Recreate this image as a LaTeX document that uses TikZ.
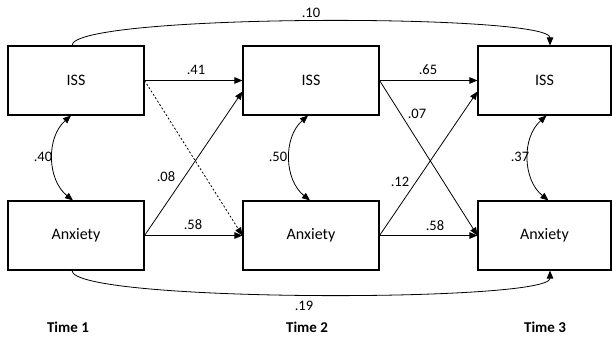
\documentclass[tikz,border=0pt]{standalone}
\usepackage{fontspec}
\setmainfont{Carlito}
\usetikzlibrary{arrows.meta}

\begin{document}
\begin{tikzpicture}[x=1pt,y=-1pt,line width=0.8pt,
  var/.style={draw,line width=1.1pt,minimum width=136pt,minimum height=69pt,inner sep=0pt,font=\fontsize{16}{19}\selectfont},
  coef/.style={inner sep=0pt,font=\fontsize{14.5}{17}\selectfont},
  wave/.style={inner sep=0pt,font=\fontsize{15}{18}\selectfont\bfseries},
  >={Triangle[length=8pt,width=6.5pt]}]
  \useasboundingbox (0,0) rectangle (612,337);
  \node[var] (iss1) at (76,80.5) {ISS};
  \node[var] (anx1) at (76,235.5) {Anxiety};
  \node[var] (iss2) at (311,80.5) {ISS};
  \node[var] (anx2) at (311,235.5) {Anxiety};
  \node[var,minimum width=133pt] (iss3) at (544.5,80.5) {ISS};
  \node[var,minimum width=133pt] (anx3) at (544.5,235.5) {Anxiety};
  \path[->]
    (iss1) edge (iss2)
    (anx1) edge (anx2)
    (anx1.east) edge ([yshift=-11pt]iss2.west)
    (iss2) edge (iss3)
    (anx2) edge (anx3)
    (iss2.east) edge (anx3.west)
    (anx2.east) edge ([yshift=-11pt]iss3.west);
  \path[->,dash pattern=on 2pt off 2pt]
    (iss1.east) edge (anx2.west);
  \path[<->]
    ([xshift=-5pt]iss1.south) edge[bend right=50] ([xshift=-3pt]anx1.north)
    ([xshift=-3pt]iss2.south) edge[bend right=50] ([xshift=-1pt]anx2.north)
    ([xshift=2pt]iss3.south) edge[bend right=50] ([xshift=4pt]anx3.north);
  \draw[->] ([xshift=-4pt]iss1.north) .. controls +(0,-32) and +(0,-32) .. ([xshift=5.5pt]iss3.north);
  \draw[->] ([xshift=-4pt]anx1.south) .. controls +(0,32) and +(0,32) .. ([xshift=5.5pt]anx3.south);
  \node[coef] (c41) at (196,70) {.41};
  \node[coef] (c58a) at (193,225) {.58};
  \node[coef] (c08) at (166,177) {.08};
  \node[coef] (c65) at (428,70) {.65};
  \node[coef] (c07) at (417,114) {.07};
  \node[coef] (c12) at (400,182) {.12};
  \node[coef] (c58b) at (435,226) {.58};
  \node[coef] (c10) at (311,13) {.10};
  \node[coef] (c19) at (304,306) {.19};
  \node[coef] (c40) at (43,157) {.40};
  \node[coef] (c50) at (278,157) {.50};
  \node[coef] (c37) at (520,157) {.37};
  \node[wave] (t1) at (68,327) {Time 1};
  \node[wave] (t2) at (307,327) {Time 2};
  \node[wave] (t3) at (545,327) {Time 3};
\end{tikzpicture}
\end{document}
